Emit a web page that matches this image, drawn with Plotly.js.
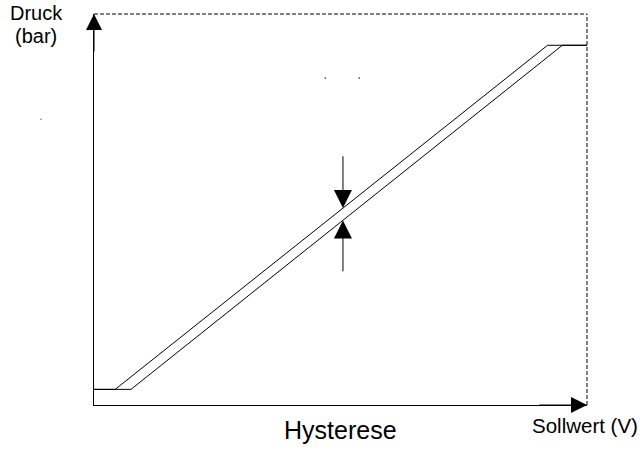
<!DOCTYPE html>
<html>
<head>
<meta charset="utf-8">
<script src="https://cdn.plot.ly/plotly-3.0.1.min.js"></script>
<style>
  html, body { margin: 0; padding: 0; background: #ffffff; }
  #chart { width: 640px; height: 450px; }
</style>
</head>
<body>
<div id="chart"></div>
<script>
// Ascending branch (Sollwert rising)
var sollwertUp = [0, 0.75, 9.5, 10];
var druckUp    = [0.4, 0.4, 9.2, 9.2];
// Descending branch (Sollwert falling)
var sollwertDown = [10, 9.2, 0.43, 0];
var druckDown    = [9.2, 9.2, 0.4, 0.4];
// Hysteresis marker: x position, tip heights on both branches, tail heights
var hystX = 5.05;
var hystTipDown = 5.04;
var hystTailDown = 6.4;
var hystTipUp = 4.72;
var hystTailUp = 3.38;
// Axis extent
var axisMax = [10, 10];
// Small stray dots in the original figure (inside and outside the plot frame)
var speckX = [4.69, 5.38];
var speckY = [8.36, 8.36];
var outerSpeckX = [-1.075];
var outerSpeckY = [7.31];
// Texts
var yLabelLines = ["Druck", "(bar)"];
var xLabel = "Sollwert (V)";
var caption = "Hysterese";

var font = "'Liberation Sans', Arial, Helvetica, sans-serif";

var traces = [
  { x: sollwertUp, y: druckUp, type: "scatter", mode: "lines",
    line: { color: "#000", width: 1 }, hoverinfo: "skip", showlegend: false, cliponaxis: false },
  { x: sollwertDown, y: druckDown, type: "scatter", mode: "lines",
    line: { color: "#000", width: 1 }, hoverinfo: "skip", showlegend: false, cliponaxis: false },
  { x: speckX, y: speckY, type: "scatter", mode: "markers",
    marker: { color: "#000", size: 1.5 }, hoverinfo: "skip", showlegend: false, cliponaxis: false }
];

function arrow(x, y, ax, ay, size) {
  return { x: x, y: y, ax: ax, ay: ay, xref: "x", yref: "y", axref: "x", ayref: "y",
           text: "", showarrow: true, arrowhead: 2, arrowsize: size, arrowwidth: 1,
           arrowcolor: "#000", standoff: 0 };
}

function label(x, y, text, size) {
  return { xref: "paper", yref: "paper", x: x, y: y, text: text, showarrow: false,
           xanchor: "center", yanchor: "middle", font: { family: font, size: size, color: "#000" } };
}

var annotations = [
  arrow(0, axisMax[1], 0, axisMax[1] - 1, 3.2),
  arrow(axisMax[0], 0, axisMax[0] - 1, 0, 3.2),
  arrow(hystX, hystTipDown, hystX, hystTailDown, 3.6),
  arrow(hystX, hystTipUp, hystX, hystTailUp, 3.6),
  label(-0.1176, 1.0013, yLabelLines[0], 20),
  label(-0.1176, 0.9425, yLabelLines[1], 20),
  label(0.9965, -0.0537, xLabel, 20.5),
  label(0.5, -0.064, caption, 25)
];

var shapes = [
  { type: "line", xref: "paper", yref: "paper", x0: 0, y0: 1, x1: 1, y1: 1,
    line: { color: "#000", width: 1, dash: "4px,2px" } },
  { type: "line", xref: "paper", yref: "paper", x0: 1, y0: 0, x1: 1, y1: 1,
    line: { color: "#000", width: 1, dash: "4px,2px" } }
];
// the stray dot left of the frame lies outside the axis range, so it is placed on the paper
outerSpeckX.forEach(function (sx, i) {
  var px = sx / axisMax[0], py = outerSpeckY[i] / axisMax[1];
  shapes.push({ type: "rect", xref: "paper", yref: "paper",
    x0: px - 0.001, x1: px + 0.001, y0: py - 0.0013, y1: py + 0.0013,
    fillcolor: "#000", line: { width: 0 } });
});

var layout = {
  width: 640, height: 450,
  margin: { l: 94, r: 53, t: 14, b: 45, pad: 0 },
  paper_bgcolor: "#fff", plot_bgcolor: "#fff",
  showlegend: false,
  xaxis: { range: [0, axisMax[0]], showgrid: false, zeroline: false, showticklabels: false,
           ticks: "", showline: true, linecolor: "#000", linewidth: 1, fixedrange: true },
  yaxis: { range: [0, axisMax[1]], showgrid: false, zeroline: false, showticklabels: false,
           ticks: "", showline: true, linecolor: "#000", linewidth: 1, fixedrange: true },
  shapes: shapes,
  annotations: annotations
};

Plotly.newPlot("chart", traces, layout, { displayModeBar: false, staticPlot: true });
</script>
</body>
</html>
